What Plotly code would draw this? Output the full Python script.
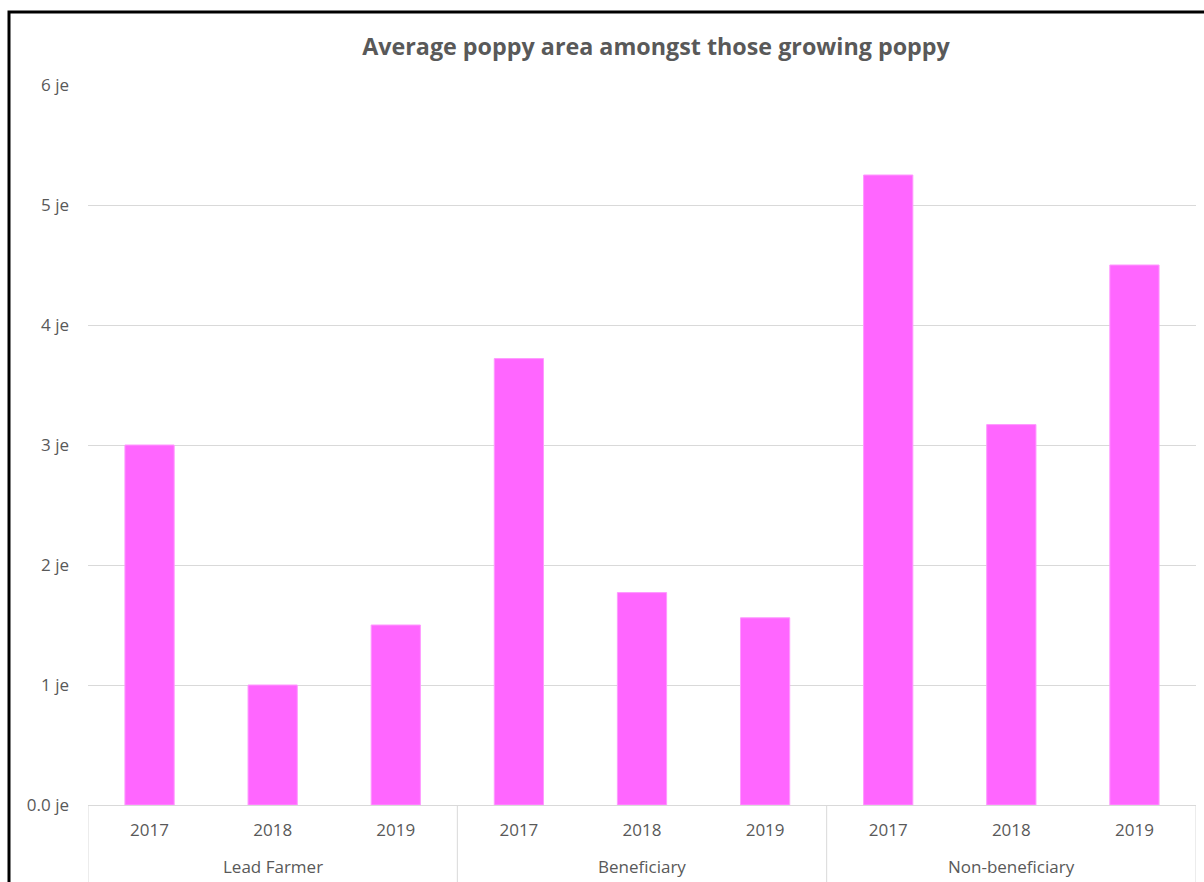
import plotly.graph_objects as go

# Average poppy area (jerib) by respondent group and survey year
groups = ["Lead Farmer", "Beneficiary", "Non-beneficiary"]
years = ["2017", "2018", "2019"]
lead_farmer = [3.0, 1.0, 1.5]
beneficiary = [3.72, 1.77, 1.56]
non_beneficiary = [5.25, 3.17, 4.5]

y_tick_vals = [0, 1, 2, 3, 4, 5, 6]
y_tick_text = ["0.0 je", "1 je", "2 je", "3 je", "4 je", "5 je", "6 je"]

series = [lead_farmer, beneficiary, non_beneficiary]
values = [v for s in series for v in s]
year_labels = [y for _ in groups for y in years]
positions = list(range(len(values)))
n_years = len(years)

GREY_TEXT = "#595959"
GRID = "#d9d9d9"
FONT = "Open Sans"

fig = go.Figure(
    go.Bar(
        x=positions,
        y=values,
        customdata=[[g, y] for g in groups for y in years],
        hovertemplate="%{customdata[0]} %{customdata[1]}: %{y}<extra></extra>",
        marker=dict(color="#FF66FF", line=dict(color="#FF99FF", width=1)),
    )
)

# Group labels under the year labels, centred on each block of bars
annotations = []
for gi, g in enumerate(groups):
    annotations.append(
        dict(
            x=gi * n_years + (n_years - 1) / 2,
            xref="x",
            y=-(866 - 805) / 720,
            yref="paper",
            text=g,
            showarrow=False,
            xanchor="center",
            yanchor="middle",
            font=dict(family=FONT, size=17, color=GREY_TEXT),
        )
    )

# Vertical dividers separating the groups on the category axis
shapes = []
for gi in range(len(groups) + 1):
    xb = gi * n_years - 0.5
    shapes.append(
        dict(
            type="line",
            xref="x",
            yref="paper",
            x0=xb,
            x1=xb,
            y0=0,
            y1=-0.12,
            line=dict(color=GRID, width=1),
            layer="below",
        )
    )

# Outer chart frame
shapes.append(
    dict(
        type="rect",
        xref="paper",
        yref="paper",
        x0=(9 - 88) / 1108,
        x1=1.2,
        y0=-0.3,
        y1=(805 - 12) / 720,
        line=dict(color="black", width=3),
        fillcolor="rgba(0,0,0,0)",
        layer="above",
    )
)

fig.update_layout(
    width=1204,
    height=882,
    margin=dict(l=88, r=8, t=85, b=77),
    paper_bgcolor="white",
    plot_bgcolor="white",
    showlegend=False,
    bargap=0.6,
    font=dict(family=FONT, color=GREY_TEXT, size=17),
    title=dict(
        text="<b>Average poppy area amongst those growing poppy</b>",
        x=656 / 1204,
        xanchor="center",
        xref="container",
        y=1 - 47 / 882,
        yanchor="middle",
        font=dict(family=FONT, size=23.3, color=GREY_TEXT),
    ),
    xaxis=dict(
        range=[-0.5, len(values) - 0.5],
        tickvals=positions,
        ticktext=year_labels,
        showgrid=False,
        zeroline=False,
        showline=True,
        linecolor=GRID,
        linewidth=1,
        ticks="",
        ticklabelstandoff=10,
        tickfont=dict(family=FONT, size=17, color=GREY_TEXT),
    ),
    yaxis=dict(
        range=[0, 6],
        tickvals=y_tick_vals,
        ticktext=y_tick_text,
        showgrid=True,
        gridcolor=GRID,
        gridwidth=1,
        zeroline=False,
        showline=False,
        ticks="",
        ticklabelstandoff=18,
        tickfont=dict(family=FONT, size=17, color=GREY_TEXT),
    ),
    annotations=annotations,
    shapes=shapes,
)

fig.write_html("out.html")
